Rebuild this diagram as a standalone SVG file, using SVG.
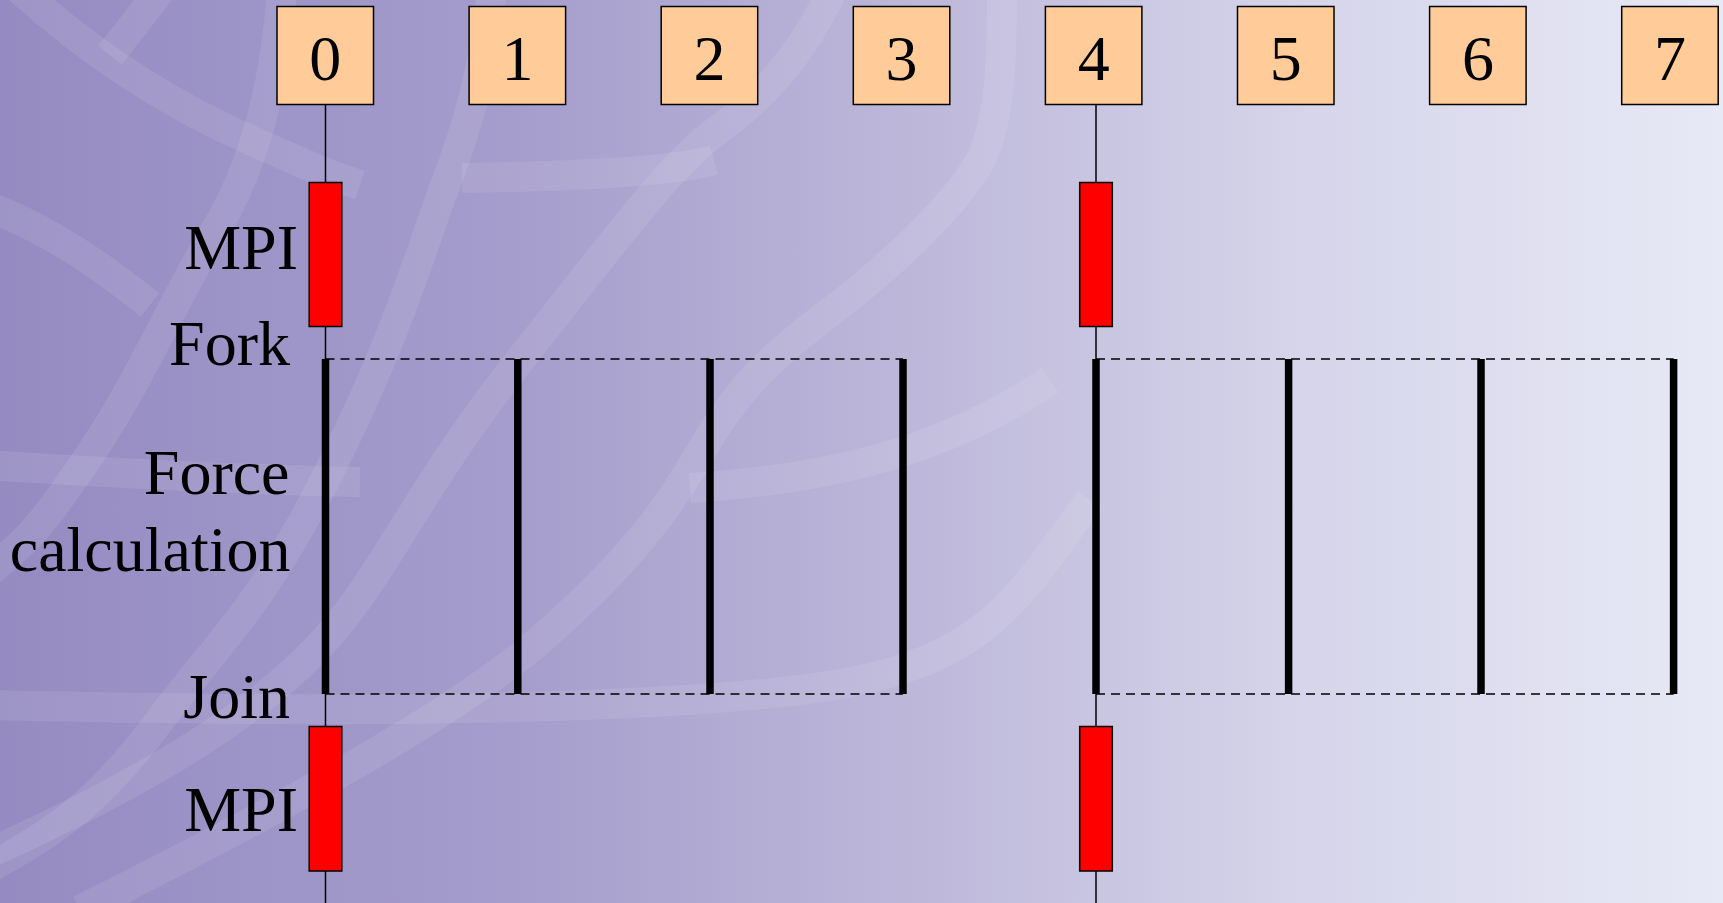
<svg xmlns="http://www.w3.org/2000/svg" width="1723" height="903" viewBox="0 0 1723 903">
<defs>
<linearGradient id="bg" x1="0" y1="0" x2="1" y2="0">
<stop offset="0" stop-color="#958bc2"/>
<stop offset="0.3" stop-color="#a59dcc"/>
<stop offset="0.55" stop-color="#bfbadb"/>
<stop offset="0.75" stop-color="#d5d4ea"/>
<stop offset="1" stop-color="#e8e9f6"/>
</linearGradient>
<style>
.band{fill:none;stroke:#ffffff;stroke-opacity:0.09;stroke-width:30}
.box{fill:#ffcc99;stroke:#000;stroke-width:1.5}
.num{font-family:"Liberation Serif","Times New Roman",serif;font-size:64px;fill:#000;text-anchor:middle}
.lbl{font-family:"Liberation Serif","Times New Roman",serif;font-size:64px;fill:#000;text-anchor:end}
.life{stroke:#000;stroke-width:1.5;fill:none}
.mpi{fill:#ff0000;stroke:#000;stroke-width:1.5}
.bar{stroke:#000;stroke-width:7.5;fill:none}
.dash{stroke:#000;stroke-width:1.6;stroke-dasharray:9 6;fill:none}
</style>
</defs>
<rect x="0" y="0" width="1723" height="903" fill="url(#bg)"/>
<g id="background-swirls">
<path class="band" d="M 15 -15 C 80 45 160 100 250 140 S 330 175 360 185"/>
<path class="band" d="M 110 55 C 130 30 145 10 165 -15"/>
<path class="band" d="M -15 205 C 50 230 100 265 150 305"/>
<path class="band" d="M 282 -15 C 276 90 252 170 214 233 S 140 380 93 450 S 30 540 -15 575"/>
<path class="band" d="M 492 -15 C 488 50 470 120 446 183 S 400 330 330 470 S 220 640 160 720 S 60 830 -15 870"/>
<path class="band" d="M 835 -15 C 800 60 760 100 714 133 S 600 260 520 360 S 400 540 357 600 S 240 740 -15 855"/>
<path class="band" d="M 1002 -15 C 1002 60 1000 110 985 150 S 900 260 820 320 S 720 420 690 470 S 620 570 540 640 S 300 800 80 910"/>
<path class="band" d="M -15 465 C 100 472 250 480 360 482"/>
<path class="band" d="M 462 178 C 580 176 670 172 714 160"/>
<path class="band" d="M 690 488 C 820 480 940 455 1050 380"/>
<path class="band" d="M -15 705 C 300 712 620 712 800 690 S 1010 610 1090 500"/>
</g>
<g id="lifelines">
<line class="life" x1="325.5" y1="105" x2="325.5" y2="903"/>
<line class="life" x1="1096" y1="105" x2="1096" y2="903"/>
</g>
<g id="connectors">
<line class="dash" x1="325.5" y1="359" x2="903" y2="359"/>
<line class="dash" x1="325.5" y1="694" x2="903" y2="694"/>
<line class="dash" x1="1096" y1="359" x2="1673.6" y2="359"/>
<line class="dash" x1="1096" y1="694" x2="1673.6" y2="694"/>
</g>
<g id="bars">
<line class="bar" x1="325.5" y1="359" x2="325.5" y2="694"/>
<line class="bar" x1="517.8" y1="359" x2="517.8" y2="694"/>
<line class="bar" x1="710" y1="359" x2="710" y2="694"/>
<line class="bar" x1="903" y1="359" x2="903" y2="694"/>
<line class="bar" x1="1096" y1="359" x2="1096" y2="694"/>
<line class="bar" x1="1288.6" y1="359" x2="1288.6" y2="694"/>
<line class="bar" x1="1481" y1="359" x2="1481" y2="694"/>
<line class="bar" x1="1673.6" y1="359" x2="1673.6" y2="694"/>
</g>
<g id="mpi-blocks">
<rect class="mpi" x="309.2" y="182.5" width="32.6" height="144"/>
<rect class="mpi" x="309.2" y="726.5" width="32.6" height="144.5"/>
<rect class="mpi" x="1079.7" y="182.5" width="32.6" height="144"/>
<rect class="mpi" x="1079.7" y="726.5" width="32.6" height="144.5"/>
</g>
<g id="node-0"><rect class="box" x="277" y="6.5" width="96.5" height="98"/><text class="num" x="325.3" y="80">0</text></g>
<g id="node-1"><rect class="box" x="469.1" y="6.5" width="96.5" height="98"/><text class="num" x="517.4" y="80">1</text></g>
<g id="node-2"><rect class="box" x="661.2" y="6.5" width="96.5" height="98"/><text class="num" x="709.5" y="80">2</text></g>
<g id="node-3"><rect class="box" x="853.3" y="6.5" width="96.5" height="98"/><text class="num" x="901.6" y="80">3</text></g>
<g id="node-4"><rect class="box" x="1045.4" y="6.5" width="96.5" height="98"/><text class="num" x="1093.7" y="80">4</text></g>
<g id="node-5"><rect class="box" x="1237.5" y="6.5" width="96.5" height="98"/><text class="num" x="1285.8" y="80">5</text></g>
<g id="node-6"><rect class="box" x="1429.6" y="6.5" width="96.5" height="98"/><text class="num" x="1477.9" y="80">6</text></g>
<g id="node-7"><rect class="box" x="1621.7" y="6.5" width="96.5" height="98"/><text class="num" x="1670" y="80">7</text></g>
<g id="labels">
<text class="lbl" x="298" y="269">MPI</text>
<text class="lbl" x="290" y="365">Fork</text>
<text class="lbl" x="289.5" y="494">Force</text>
<text class="lbl" x="290.5" y="571">calculation</text>
<text class="lbl" x="290" y="718">Join</text>
<text class="lbl" x="298" y="831">MPI</text>
</g>
</svg>
